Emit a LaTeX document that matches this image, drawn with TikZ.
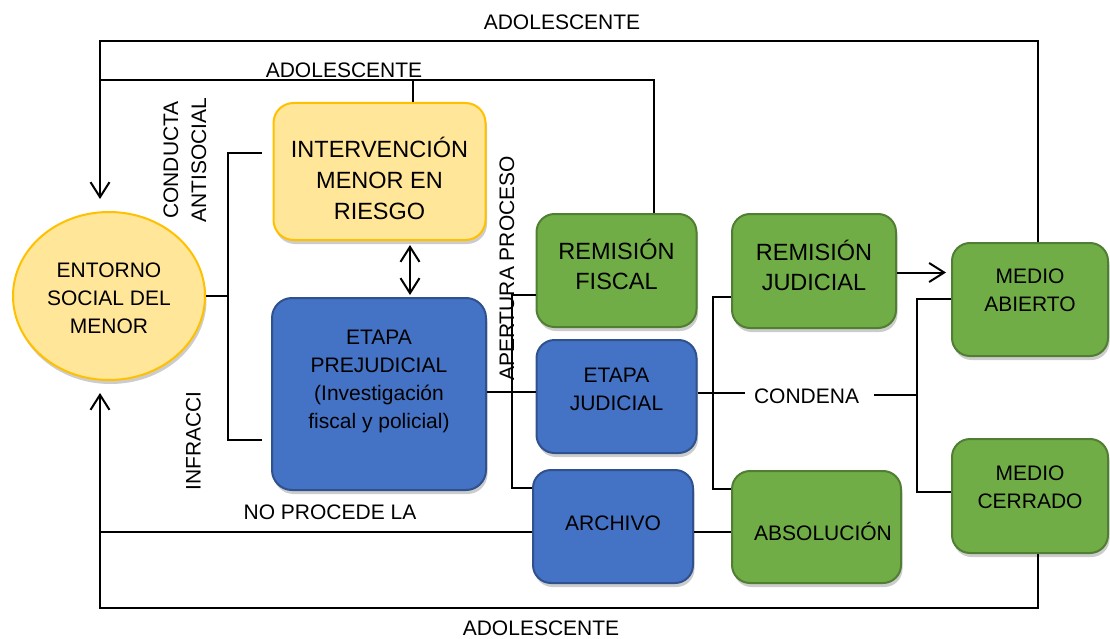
\documentclass[tikz,border=0pt]{standalone}
\usepackage{fontspec}
\setmainfont{Liberation Sans}
\usetikzlibrary{arrows.meta,shadows,shapes.geometric,calc}
\definecolor{yfill}{HTML}{FFE699}
\definecolor{ydraw}{HTML}{FFC000}
\definecolor{bfill}{HTML}{4472C4}
\definecolor{bdraw}{HTML}{2F528F}
\definecolor{gfill}{HTML}{70AD47}
\definecolor{gdraw}{HTML}{507E32}
\begin{document}
\begin{tikzpicture}[x=1pt,y=-1pt,
 shad/.style={drop shadow={shadow xshift=1.5pt,shadow yshift=-4pt,opacity=0.2,fill=black}},
 box/.style={rounded corners=20pt, line width=2pt, shad, inner sep=0pt},
 ybox/.style={box, fill=yfill, draw=ydraw},
 bbox/.style={box, fill=bfill, draw=bdraw},
 gbox/.style={box, fill=gfill, draw=gdraw},
 btxt/.style={align=center, inner sep=0pt, font=\fontsize{21}{28}\selectfont},
 bigtxt/.style={align=center, inner sep=0pt, font=\fontsize{23.5}{31}\selectfont},
 lbl/.style={inner sep=0pt, font=\fontsize{21}{28}\selectfont},
 conn/.style={line width=2pt},
 tip/.style={-{Straight Barb[length=15pt,width=19pt]}},
 dbl/.style={{Straight Barb[length=15pt,width=19pt]}-{Straight Barb[length=15pt,width=19pt]}}
]
\useasboundingbox (0,0) rectangle (1110,639);

% ---------- nodes ----------
\node[ellipse, fill=yfill, draw=ydraw, line width=2pt, shad, inner sep=0pt,
      minimum width=192pt, minimum height=168pt] (ent) at (109,296) {};
\node[btxt] (entt) at (109,298) {ENTORNO\\SOCIAL DEL\\MENOR};

\node[ybox, minimum width=212pt, minimum height=137pt] (int) at (379.5,171.5) {};
\node[bigtxt] (intt) at (379.5,178) {INTERVENCIÓN\\MENOR EN\\RIESGO};

\node[bbox, minimum width=214pt, minimum height=192pt] (pre) at (379,394) {};
\node[btxt] (pret) at (379,381) {ETAPA\\PREJUDICIAL\\(Investigación\\fiscal y policial)};

\node[gbox, rounded corners=18pt, minimum width=160pt, minimum height=113pt] (rf) at (616.5,270.5) {};
\node[bigtxt, font=\fontsize{23.5}{30}\selectfont] (rft) at (616.5,264) {REMISIÓN\\FISCAL};

\node[bbox, rounded corners=18pt, minimum width=160pt, minimum height=113pt] (ej) at (616.5,396.5) {};
\node[btxt, font=\fontsize{21}{28}\selectfont] (ejt) at (616.5,389.5) {ETAPA\\JUDICIAL};

\node[bbox, rounded corners=18pt, minimum width=160pt, minimum height=113pt] (arc) at (613,526.5) {};
\node[btxt] (arct) at (613,523) {ARCHIVO};

\node[gbox, rounded corners=18pt, minimum width=164pt, minimum height=114pt] (rj) at (814,271) {};
\node[bigtxt, font=\fontsize{23.5}{30}\selectfont] (rjt) at (814,265) {REMISIÓN\\JUDICIAL};

\node[gbox, rounded corners=18pt, minimum width=169pt, minimum height=112pt] (abs) at (816.5,527) {};
\node[btxt] (abst) at (823,531) {ABSOLUCIÓN};

\node[gbox, rounded corners=18pt, minimum width=156pt, minimum height=113pt] (ma) at (1030,299.5) {};
\node[btxt, font=\fontsize{21}{28}\selectfont] (mat) at (1030,290.5) {MEDIO\\ABIERTO};

\node[gbox, rounded corners=18pt, minimum width=156pt, minimum height=114pt] (mc) at (1030,496) {};
\node[btxt, font=\fontsize{21}{28}\selectfont] (mct) at (1030,487) {MEDIO\\CERRADO};

% ---------- labels ----------
\node[lbl] (adol1) at (562,22.5) {ADOLESCENTE};
\node[lbl] (adol2) at (344,70.5) {ADOLESCENTE};
\node[lbl] (adol3) at (541,628) {ADOLESCENTE};
\node[lbl] (nop) at (330,512.5) {NO PROCEDE LA};
\node[lbl] (cond) at (806.5,396) {CONDENA};
\node[lbl, rotate=90, align=center] (cas) at (185,160) {CONDUCTA\\ANTISOCIAL};
\node[lbl, rotate=90] (inf) at (193.5,441) {INFRACCI};
\node[lbl, rotate=90] (ap) at (507,268.5) {APERTURA PROCESO};

% ---------- coordinates ----------
\coordinate (jL) at (228,297);
\coordinate (cT) at (262,153);
\coordinate (cB) at (262,440);
\coordinate (dx) at (410,0);
\coordinate (hp) at (0,392);
\coordinate (v1t) at (512,295);
\coordinate (v1b) at (512,488);
\coordinate (v2t) at (713,297);
\coordinate (v2b) at (713,489);
\coordinate (cl) at (745,393);
\coordinate (cr) at (874,395);
\coordinate (v3m) at (917,395);
\coordinate (v3t) at (917,299);
\coordinate (v3b) at (917,492);
\coordinate (ar) at (0,272.5);
\coordinate (oT) at (1038,41);
\coordinate (oL) at (100,41);
\coordinate (iT) at (654,80);
\coordinate (iL) at (100,80);
\coordinate (ix) at (413,0);
\coordinate (bR) at (1038,608);
\coordinate (bL) at (100,608);
\coordinate (nL) at (100,532);
\coordinate (nY) at (0,532);

% ---------- connectors ----------
\draw[conn] (ent.east) -- (ent.east -| jL);
\draw[conn] (cT) -| (jL) |- (cB);
\draw[conn, dbl] ([yshift=-4pt]int.south -| dx) -- ([yshift=2pt]pre.north -| dx);
\draw[conn] (pre.east |- hp) -- (ej.west |- hp);
\draw[conn] (rf.west |- v1t) -- (v1t) -- (v1b) -- (arc.west |- v1b);
\draw[conn] (rj.west |- v2t) -- (v2t) -- (v2b) -- (abs.west |- v2b);
\draw[conn] (ej.east |- cl) -- (cl);
\draw[conn] (cr) -- (v3m);
\draw[conn] (ma.west |- v3t) -- (v3t) -- (v3b) -- (mc.west |- v3b);
\draw[conn, tip] (rj.east |- ar) -- ([xshift=-5pt]ma.west |- ar);
\draw[conn, tip] (ma.north -| oT) -- (oT) -- (oL) -- ([yshift=12pt]ent.north -| oL);
\draw[conn] (rf.north -| iT) -- (iT) -- (iL);
\draw[conn] (int.north -| ix) -- (ix |- iT);
\draw[conn, tip] (mc.south -| bR) -- (bR) -- (bL) -- ([yshift=-12pt]ent.south -| bL);
\draw[conn] (nL) -- (arc.west |- nY);
\draw[conn] (arc.east |- nY) -- (abs.west |- nY);
\end{tikzpicture}
\end{document}
